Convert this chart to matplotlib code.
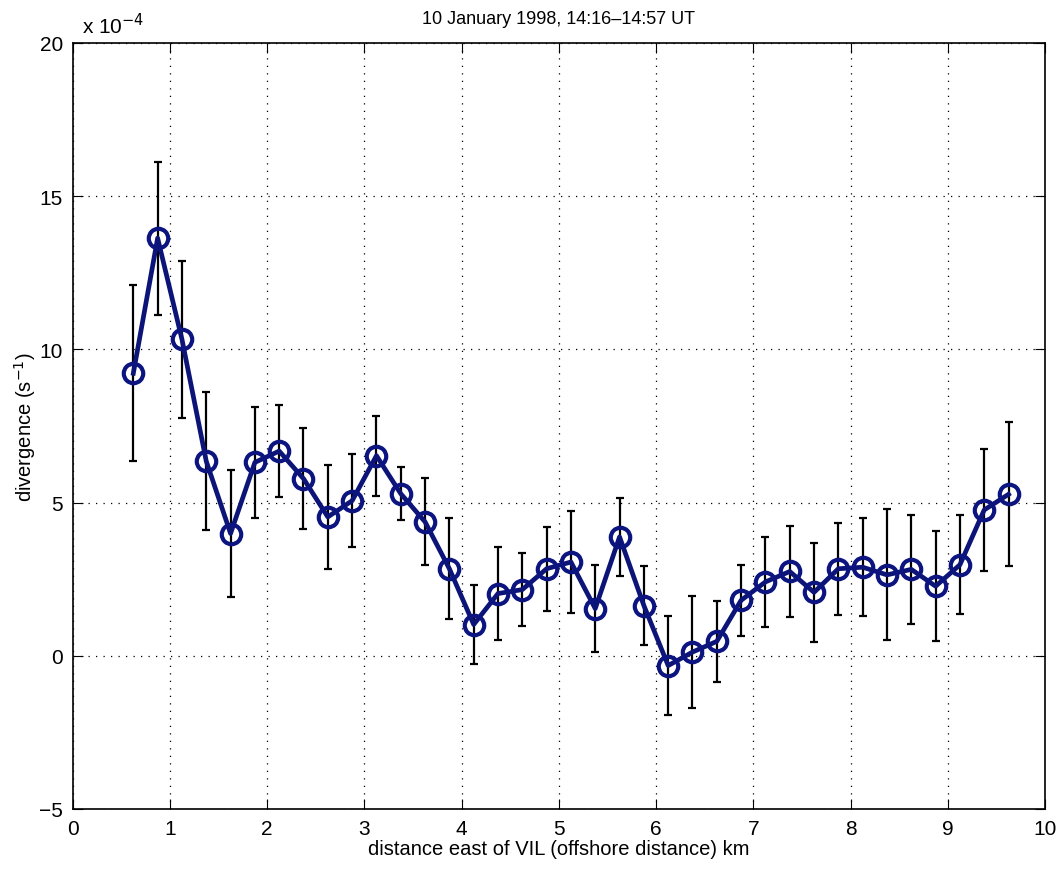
import matplotlib
matplotlib.use('Agg')
import matplotlib.pyplot as plt

plt.rcParams['font.family'] = ['Liberation Sans', 'DejaVu Sans']

# distance east of VIL (km)
dist = [0.625, 0.875, 1.125, 1.375, 1.625, 1.875, 2.125, 2.375, 2.625, 2.875,
        3.125, 3.375, 3.625, 3.875, 4.125, 4.375, 4.625, 4.875, 5.125, 5.375,
        5.625, 5.875, 6.125, 6.375, 6.625, 6.875, 7.125, 7.375, 7.625, 7.875,
        8.125, 8.375, 8.625, 8.875, 9.125, 9.375, 9.625]
# divergence in units of 1e-4 s^-1
div = [9.22, 13.63, 10.33, 6.35, 3.99, 6.31, 6.68, 5.78, 4.53, 5.06,
       6.53, 5.29, 4.37, 2.84, 1.02, 2.03, 2.16, 2.84, 3.06, 1.54,
       3.88, 1.64, -0.32, 0.12, 0.47, 1.81, 2.41, 2.75, 2.07, 2.84,
       2.89, 2.64, 2.82, 2.27, 2.97, 4.76, 5.27]
err = [2.88, 2.50, 2.56, 2.25, 2.07, 1.82, 1.50, 1.64, 1.70, 1.52,
       1.31, 0.87, 1.42, 1.65, 1.29, 1.52, 1.19, 1.37, 1.65, 1.41,
       1.28, 1.28, 1.61, 1.82, 1.32, 1.16, 1.48, 1.49, 1.62, 1.50,
       1.60, 2.14, 1.77, 1.79, 1.62, 1.98, 2.35]

fig = plt.figure(figsize=(10.62, 8.7), dpi=100)
ax = fig.add_axes([0.0683, 0.069, 0.9157, 0.8805])

ax.errorbar(dist, div, yerr=err, fmt='none', ecolor='black', elinewidth=1.6,
            capsize=3, capthick=1.6, zorder=3)
ax.plot(dist, div, '-o', color='#0c1478', lw=3.4, ms=14, mew=3,
        mfc='none', mec='#0c1480', zorder=4)

ax.set_xlim(0, 10)
ax.set_ylim(-5, 20)
ax.set_xticks(range(0, 11))
ax.set_yticks([-5, 0, 5, 10, 15, 20])
ax.grid(True, linestyle=(0, (1, 5)), color='black', linewidth=0.9)
ax.tick_params(direction='in', top=True, right=True, length=7, labelsize=15,
               pad=7)
for s in ax.spines.values():
    s.set_linewidth(1.2)

ax.set_xlabel('distance east of VIL (offshore distance) km', fontsize=14.5, labelpad=1)
ax.set_ylabel('divergence (s$^{-1}$)', fontsize=14.5, labelpad=1)
ax.set_title('10 January 1998, 14:16\u201314:57 UT', fontsize=13, pad=14)
ax.text(0.01, 1.008, 'x 10$^{-4}$', transform=ax.transAxes, fontsize=15,
        ha='left', va='bottom')

fig.savefig('out.png', dpi=100)
